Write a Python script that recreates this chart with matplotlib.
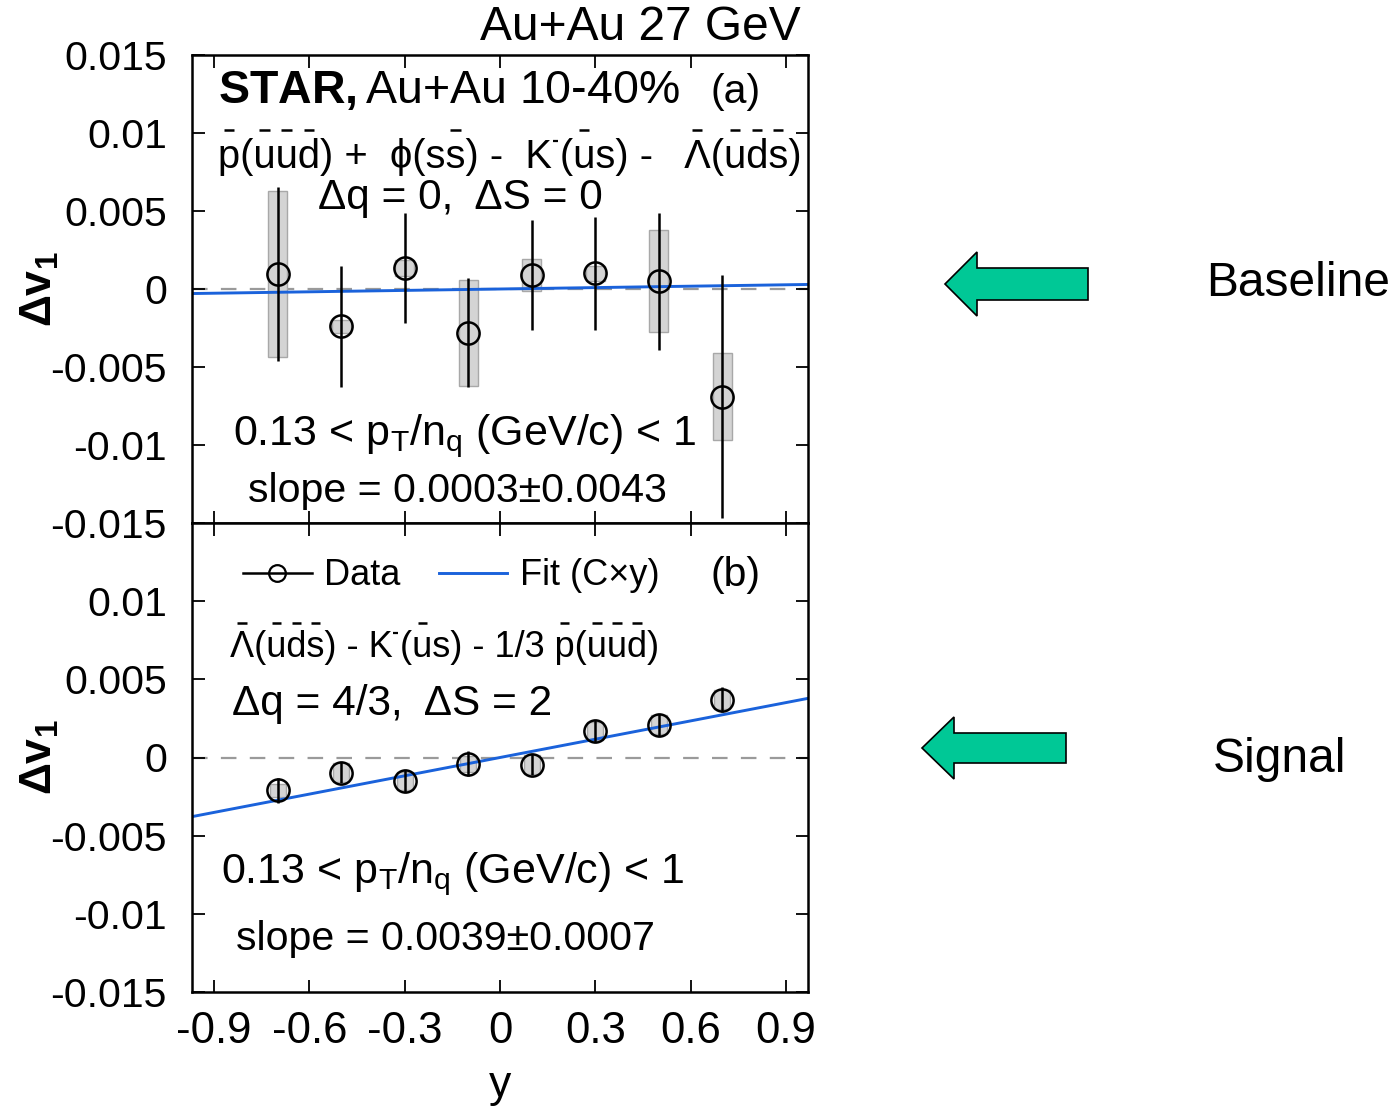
import numpy as np
import matplotlib
matplotlib.use('Agg')
import matplotlib.pyplot as plt
from matplotlib.lines import Line2D
from matplotlib.patches import Rectangle, Polygon

plt.rcParams['font.family'] = ['Liberation Sans', 'DejaVu Sans']
plt.rcParams['mathtext.fontset'] = 'custom'
plt.rcParams['mathtext.rm'] = 'Liberation Sans'
plt.rcParams['mathtext.it'] = 'Liberation Sans:italic'
plt.rcParams['mathtext.bf'] = 'Liberation Sans:bold'

# rapidity bins
rap = [-0.7, -0.5, -0.3, -0.1, 0.1, 0.3, 0.5, 0.7]

# (a) pbar + phi - K- - Lambdabar  (dq = 0, dS = 0)
dv1_a = [0.00096, -0.0024, 0.00135, -0.0028, 0.0009, 0.0010, 0.0005, -0.0069]
stat_a = [0.0056, 0.0039, 0.0035, 0.0035, 0.0035, 0.0036, 0.0044, 0.0078]
sys_a = [0.0053, 0.0004, 0.0005, 0.0034, 0.00105, 0.0005, 0.00325, 0.0028]
slope_a, slope_err_a = 0.0003, 0.0043

# (b) Lambdabar - K- - 1/3 pbar  (dq = 4/3, dS = 2)
dv1_b = [-0.0021, -0.00096, -0.0015, -0.0004, -0.00045, 0.0017, 0.0021, 0.0037]
stat_b = [0.0008, 0.0007, 0.0007, 0.0008, 0.0007, 0.0007, 0.0007, 0.0008]
sys_b = [0.0004, 0.0006, 0.0006, 0.0005, 0.0006, 0.0006, 0.0006, 0.0006]
slope_b, slope_err_b = 0.0039, 0.0007

xticks = [-0.9, -0.6, -0.3, 0, 0.3, 0.6, 0.9]
xtick_labels = ['-0.9', '-0.6', '-0.3', '0', '0.3', '0.6', '0.9']
yticks = [0.015, 0.01, 0.005, 0, -0.005, -0.01, -0.015]
ytick_labels = ['0.015', '0.01', '0.005', '0', '-0.005', '-0.01', '-0.015']

# quark content labels: '~' puts a bar over the next character, '^' a minus after the previous one
quarks_a = '~p(~u~u~d) +  \u03d5(s~s) -  K^\u2009(~us) -   ~\u039b(~u~d~s)'
quarks_b = '~\u039b(~u~d~s) - K^\u2009(~us) - 1/3 ~p(~u~u~d)'

W, H = 1395, 1108
fig = plt.figure(figsize=(W / 100, H / 100), dpi=100)
ax_a = fig.add_axes([192 / W, 1 - 523 / H, 616 / W, 468 / H])
ax_b = fig.add_axes([192 / W, 1 - 992 / H, 616 / W, 469 / H])

blue = '#1a62db'
box_face = '#d4d4d4'
box_edge = '#a8a8a8'


def draw_panel(ax, v, stat, sys, slope, box_w):
    for x, y, s in zip(rap, v, sys):
        ax.add_patch(Rectangle((x - box_w / 2, y - s), box_w, 2 * s, facecolor=box_face,
                               edgecolor=box_edge, lw=1, zorder=1))
    ax.axhline(0, color='#9a9a9a', lw=1.6, dashes=(7, 6), zorder=0.5)
    xx = np.array([-1.0, 1.0])
    ax.plot(xx, slope * xx, color=blue, lw=2.1, zorder=2)
    ax.errorbar(rap, v, yerr=stat, fmt='o', ms=16, mfc='none', mec='k', mew=1.8,
                ecolor='k', elinewidth=1.8, capsize=0, zorder=3)
    ax.set_xlim(-0.97, 0.97)
    ax.set_ylim(-0.015, 0.015)
    ax.set_xticks(xticks)
    ax.set_yticks(yticks)
    ax.set_yticklabels(ytick_labels)
    ax.tick_params(direction='in', length=9, width=1.3, top=True, right=True,
                   labelsize=29.5, pad=18)
    for sp in ax.spines.values():
        sp.set_linewidth(1.8)


draw_panel(ax_a, dv1_a, stat_a, sys_a, slope_a, 0.06)
draw_panel(ax_b, dv1_b, stat_b, sys_b, slope_b, 0.05)
ax_a.set_xticklabels([])
ax_b.set_xticklabels(xtick_labels)
ax_b.set_yticks(yticks[1:])
ax_b.set_yticklabels(ytick_labels[1:])
ax_b.tick_params(axis='x', labelsize=31.5, pad=14)

for ax in (ax_a, ax_b):
    ax.set_ylabel(r'$\mathbf{\Delta v_1}$', fontsize=32)
    ax.yaxis.set_label_coords(-0.212, 0.5)
ax_b.set_xlabel('y', fontsize=32)
ax_b.xaxis.set_label_coords(0.5, -0.155)

renderer = fig.canvas.get_renderer()


def parse_bars(markup):
    s, bars, sups = '', [], []
    bar_next = False
    for ch in markup:
        if ch == '~':
            bar_next = True
            continue
        if ch == '^':
            sups.append(len(s) - 1)
            continue
        if bar_next:
            bars.append(len(s))
            bar_next = False
        s += ch
    return s, bars, sups


def barred_text(ax, x, y, markup, size):
    """Text line with short bars drawn over the marked characters."""
    s, bars, sups = parse_bars(markup)
    ax.text(x, y, s, transform=ax.transAxes, fontsize=size, va='baseline', ha='left')
    em = size * fig.dpi / 72
    y0 = ax.transAxes.transform((x, y))[1]
    inv = ax.transAxes.inverted()

    def right_edge(i):
        tmp = ax.text(x, y, s[:i + 1], transform=ax.transAxes, fontsize=size,
                      va='baseline', ha='left')
        e = tmp.get_window_extent(renderer).x1
        tmp.remove()
        return e

    def char_width(i):
        tmp = ax.text(0, 0, s[i], fontsize=size)
        w = tmp.get_window_extent(renderer).width
        tmp.remove()
        return w

    for i in bars:
        xc = right_edge(i) - char_width(i) / 2
        p = inv.transform([(xc - 0.13 * em, y0 + 0.95 * em), (xc + 0.13 * em, y0 + 0.95 * em)])
        ax.plot(p[:, 0], p[:, 1], transform=ax.transAxes, color='k', lw=1.8,
                solid_capstyle='butt', clip_on=False)
    for i in sups:
        xr = right_edge(i)
        p = inv.transform([(xr + 0.02 * em, y0 + 0.68 * em), (xr + 0.15 * em, y0 + 0.68 * em)])
        ax.plot(p[:, 0], p[:, 1], transform=ax.transAxes, color='k', lw=1.6,
                solid_capstyle='butt', clip_on=False)


# panel (a) annotations
ax_a.text(0.042, 0.897, r'$\mathbf{STAR,}$Au+Au 10-40%', transform=ax_a.transAxes,
          fontsize=33.5, va='baseline')
ax_a.text(0.841, 0.897, '(a)', transform=ax_a.transAxes, fontsize=29.5, va='baseline')
barred_text(ax_a, 0.042, 0.7585, quarks_a, 28.7)
ax_a.text(0.2045, 0.671, '\u0394q = 0,  \u0394S = 0', transform=ax_a.transAxes,
          fontsize=30.5, va='baseline')
ax_a.text(0.0666, 0.1667, r'0.13 < p$_\mathrm{T}$/n$_\mathrm{q}$ (GeV/c) < 1',
          transform=ax_a.transAxes, fontsize=31, va='baseline')
ax_a.text(0.091, 0.045, f'slope = {slope_a:.4f}\u00b1{slope_err_a:.4f}',
          transform=ax_a.transAxes, fontsize=29.6, va='baseline')

# panel (b) annotations
handles = [Line2D([], [], color='k', lw=1.8, marker='o', ms=12, mfc='none', mew=1.6),
           Line2D([], [], color=blue, lw=2.1)]
ax_b.legend(handles, ['Data', 'Fit (C\u00d7y)'], ncol=2, frameon=False, fontsize=26,
            loc='upper left', bbox_to_anchor=(0.0828, 0.925), borderaxespad=0,
            borderpad=0, handlelength=1.9, columnspacing=1.05, handletextpad=0.35)
ax_b.text(0.8425, 0.866, '(b)', transform=ax_b.transAxes, fontsize=29.5, va='baseline')
barred_text(ax_b, 0.0617, 0.714, quarks_b, 26)
ax_b.text(0.065, 0.5906, '\u0394q = 4/3,  \u0394S = 2', transform=ax_b.transAxes,
          fontsize=30.5, va='baseline')
ax_b.text(0.047, 0.2324, r'0.13 < p$_\mathrm{T}$/n$_\mathrm{q}$ (GeV/c) < 1',
          transform=ax_b.transAxes, fontsize=31, va='baseline')
ax_b.text(0.0714, 0.0896, f'slope = {slope_b:.4f}\u00b1{slope_err_b:.4f}',
          transform=ax_b.transAxes, fontsize=29.6, va='baseline')

fig.text(640 / W, 1 - 28 / H, 'Au+Au 27 GeV', fontsize=34.5, ha='center', va='center')


def left_arrow(tip_x, tip_y, head_len, head_half, shaft_half, tail_x):
    pts = [(tip_x, tip_y),
           (tip_x + head_len, tip_y - head_half),
           (tip_x + head_len, tip_y - shaft_half),
           (tail_x, tip_y - shaft_half),
           (tail_x, tip_y + shaft_half),
           (tip_x + head_len, tip_y + shaft_half),
           (tip_x + head_len, tip_y + head_half)]
    pts = [(px / W, 1 - py / H) for px, py in pts]
    fig.patches.append(Polygon(pts, closed=True, facecolor='#00c896', edgecolor='k',
                               lw=1.2, transform=fig.transFigure))


left_arrow(945, 284, 32, 32, 16, 1088)
left_arrow(922, 748, 32, 31, 15, 1066)
fig.text(1298 / W, 1 - 284 / H, 'Baseline', fontsize=34.5, ha='center', va='center')
fig.text(1280 / W, 1 - 760 / H, 'Signal', fontsize=34.5, ha='center', va='center')

fig.savefig('out.png', dpi=100)
